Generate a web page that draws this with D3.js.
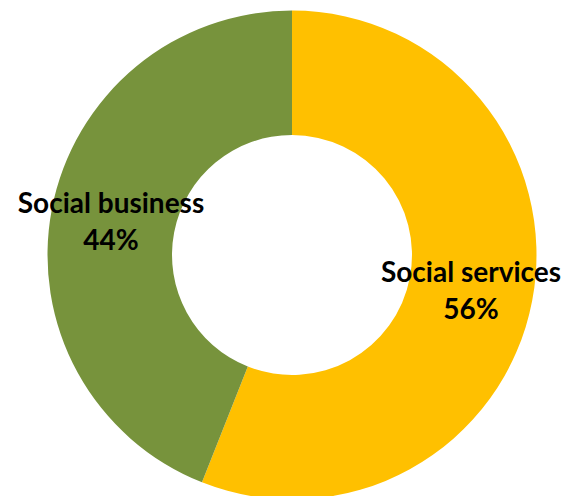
<!DOCTYPE html>
<html><head><meta charset="utf-8">
<script src="https://cdn.jsdelivr.net/npm/d3@7"></script>
<style>html,body{margin:0;padding:0;background:#fff;}</style>
</head><body>
<svg id="c" width="576" height="496"></svg>
<script>
const categories = ["Social services", "Social business"];
const values = [56, 44];
const colors = ["#FFC000", "#77933C"];
const labelText = ["56%", "44%"];

const svg = d3.select("#c");
const cx = 292, cy = 255, R = 244.5, r = 120;
const g = svg.append("g").attr("transform", `translate(${cx},${cy})`);
const pie = d3.pie().sort(null).value(d => d)(values);
const arc = d3.arc().innerRadius(r).outerRadius(R);
g.selectAll("path").data(pie).join("path")
  .attr("d", arc).attr("fill", (d, i) => colors[i]);

const labelPos = [[179, 27], [-181, -42]];
const lab = g.selectAll("text.l").data(pie).join("text")
  .attr("class", "l")
  .attr("text-anchor", "middle")
  .attr("font-family", "Lato, sans-serif")
  .attr("font-weight", "bold")
  .attr("font-size", 28)
  .attr("fill", "#000")
  .attr("transform", (d, i) => `translate(${labelPos[i][0]},${labelPos[i][1]})`);
lab.append("tspan").attr("x", 0).attr("y", 0).text((d, i) => categories[i]);
lab.append("tspan").attr("x", 0).attr("y", 37).text((d, i) => labelText[i]);
</script>
</body></html>
